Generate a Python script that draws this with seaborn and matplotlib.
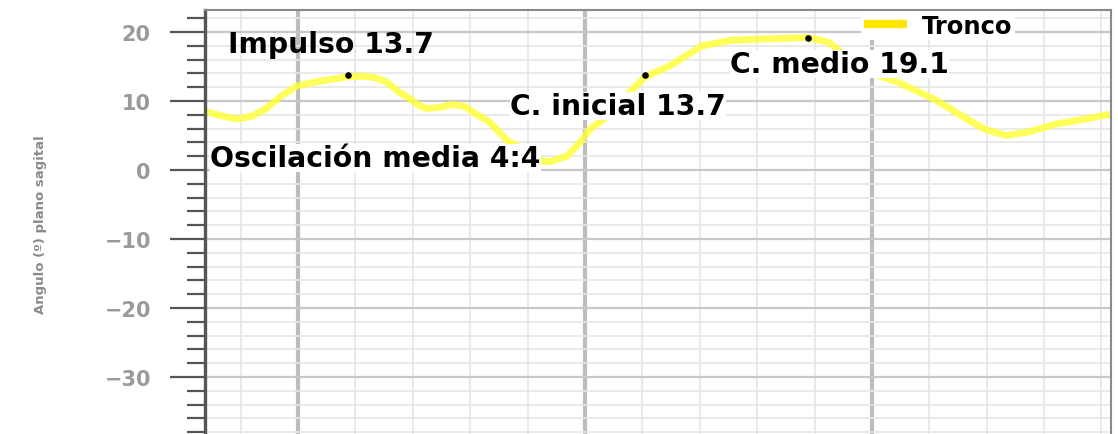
import matplotlib
matplotlib.use("Agg")
import matplotlib.pyplot as plt
import seaborn as sns
import pandas as pd
from matplotlib.ticker import MultipleLocator
from matplotlib.lines import Line2D

# --- data ---
frame = [6.76, 7.28, 7.87, 8.40, 8.92, 9.44, 9.97, 10.66, 11.71, 12.26, 12.68, 13.10,
         13.55, 13.80, 14.25, 14.49, 14.95, 15.40, 15.82, 16.10, 16.69, 17.28, 17.63,
         18.08, 18.50, 18.78, 19.37, 19.83, 20.17, 20.98, 21.57, 22.09, 22.96, 24.08,
         25.09, 26.34, 27.77, 28.50, 29.23, 29.76, 30.91, 32.16, 33.31, 33.94, 34.67,
         35.44, 36.45, 37.46, 38.33]
tronco = [8.5, 7.9, 7.4, 7.8, 9.0, 10.8, 12.2, 12.8, 13.5, 13.6, 13.4, 12.7,
          11.2, 10.6, 9.3, 8.9, 9.1, 9.5, 9.2, 8.4, 6.9, 4.3, 3.5,
          2.2, 1.3, 1.2, 2.0, 4.0, 5.9, 8.4, 11.3, 13.5, 15.1, 18.0,
          18.8, 19.0, 19.2, 18.5, 16.0, 14.4, 12.7, 10.3, 7.4, 5.9, 5.0,
          5.5, 6.7, 7.4, 8.1]
event_x = [11.74, 22.09, 27.77]
event_y = [13.7, 13.7, 19.1]
label_text = ["Impulso 13.7", "Oscilación media 4:4", "C. inicial 13.7", "C. medio 19.1"]
label_x = [7.56, 6.93, 17.39, 25.05]
label_y = [17.1, 0.6, 8.1, 14.2]
label_box = [False, True, True, True]
y_ticks = [-30, -20, -10, 0, 10, 20]

df = pd.DataFrame({"frame": frame, "Tronco": tronco})

sns.set_theme(style="white")
plt.rcParams['font.family'] = ['DejaVu Sans']

fig = plt.figure(figsize=(11.18, 4.35), dpi=100)
ax = fig.add_axes([0.1834, 0.0, 0.9937 - 0.1834, 0.9747])

# grid
ax.xaxis.set_major_locator(MultipleLocator(10))
ax.xaxis.set_minor_locator(MultipleLocator(2))
ax.yaxis.set_major_locator(MultipleLocator(10))
ax.yaxis.set_minor_locator(MultipleLocator(2))
ax.grid(which="minor", axis="both", color="#e6e6e6", lw=1.2, zorder=0)
ax.grid(which="major", axis="y", color="#c8c8c8", lw=1.6, zorder=0)
ax.grid(which="major", axis="x", color="#bdbdbd", lw=3.0, zorder=0)
ax.set_axisbelow(True)

sns.lineplot(data=df, x="frame", y="Tronco", ax=ax, color="#ffff33", lw=5,
             alpha=0.8, legend=False, zorder=2, sort=False)
ax.scatter(event_x, event_y, s=14, color="black", zorder=4, marker="o")

for t, x, y, b in zip(label_text, label_x, label_y, label_box):
    kw = {}
    if b:
        kw["bbox"] = dict(facecolor="white", edgecolor="none", pad=0.3)
    ax.text(x, y, t, fontsize=20.3, fontweight="bold", color="black", va="baseline",
            ha="left", zorder=5, **kw)

ax.set_xlim(6.76, 38.33)
ax.set_ylim(-38.26, 23.19)
ax.set_yticks(y_ticks)
ax.set_yticklabels([str(v).replace("-", "\u2212") for v in y_ticks], fontweight="bold")
ax.tick_params(axis="y", which="major", length=25, width=1.6, color="#555555",
               pad=14, labelsize=15, labelcolor="#9a9a9a", left=True)
ax.tick_params(axis="y", which="minor", length=13, width=1.6, color="#555555", left=True)
ax.tick_params(axis="x", which="both", bottom=False, labelbottom=False)

ax.spines["left"].set_color("#555555")
ax.spines["left"].set_linewidth(2.4)
for side in ["top", "right"]:
    ax.spines[side].set_color("#8a8a8a")
    ax.spines[side].set_linewidth(1.5)
ax.spines["bottom"].set_visible(False)

ax.set_xlabel("")
ax.set_ylabel("")
fig.text(0.036, 0.483, "Angulo (º) plano sagital", rotation=90, fontsize=9.5,
         fontweight="bold", color="#8a8a8a", ha="center", va="center")

handle = Line2D([0], [0], color="#ffe600", lw=6, solid_capstyle="butt")
leg = ax.legend([handle], ["Tronco"], loc="upper right", bbox_to_anchor=(0.894, 0.997),
                frameon=True, fancybox=False, framealpha=1, edgecolor="none",
                handlelength=1.77, handletextpad=0.62, borderpad=0.1, borderaxespad=0,
                prop={"weight": "bold", "size": 17.5})
for txt in leg.get_texts():
    txt.set_color("black")
leg.set_zorder(6)

fig.savefig("out.png", dpi=100)
